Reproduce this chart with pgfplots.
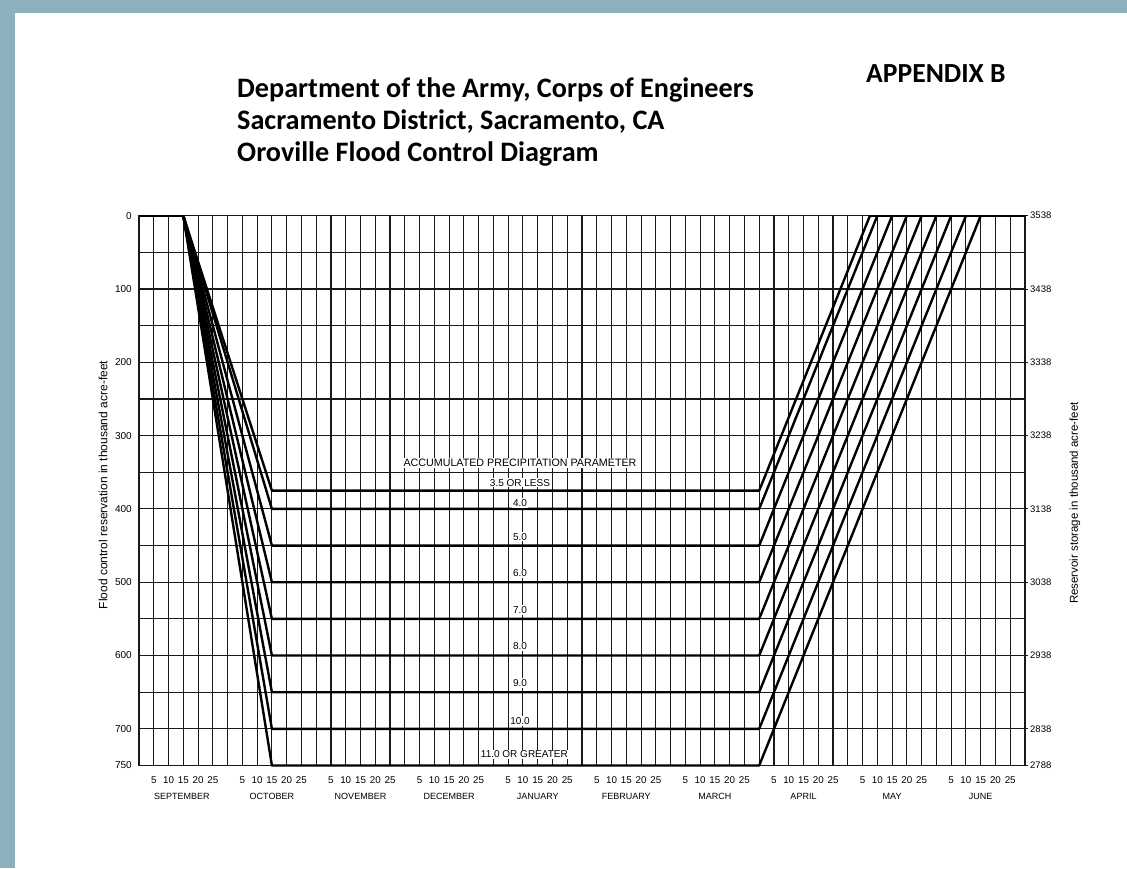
\documentclass[border=0pt]{standalone}
\usepackage{fontspec}
\setmainfont{Liberation Sans}
\newfontfamily\titlefont{Carlito}
\usepackage{pgfplots}
\pgfplotsset{compat=1.18}
\definecolor{band}{RGB}{141,176,189}
\begin{document}
\begin{tikzpicture}[x=1pt,y=1pt]
\useasboundingbox (0,0) rectangle (1127,868);
\fill[white] (0,0) rectangle (1127,868);
\fill[band] (0,0) rectangle (14.5,868);
\fill[band] (0,855) rectangle (1127,868);

\tikzset{ttl/.style={anchor=base west, inner sep=0pt, font=\titlefont\bfseries\fontsize{28.2}{32}\selectfont}}
\node[ttl] at (237,770) {Department of the Army, Corps of Engineers};
\node[ttl] at (237,738) {Sacramento District, Sacramento, CA};
\node[ttl] at (237,706) {Oroville Flood Control Diagram};
\node[ttl, font=\titlefont\bfseries\fontsize{27.6}{32}\selectfont] at (866,785) {APPENDIX B};

\node[rotate=90, font=\fontsize{12}{14}\selectfont] at (103,383) {Flood control reservation in thousand acre-feet};
\node[rotate=90, font=\fontsize{11.5}{14}\selectfont] at (1075,365) {Reservoir storage in thousand acre-feet};

\begin{axis}[
  at={(139pt,102.5pt)}, anchor=south west,
  scale only axis, width=886pt, height=549.8pt,
  xmin=0, xmax=60, ymin=0, ymax=750, y dir=reverse,
  clip=false,
  /pgf/number format/assume math mode=true,
  xtick={0,1,...,60},
  xticklabels={,5,10,15,20,25,,5,10,15,20,25,,5,10,15,20,25,,5,10,15,20,25,,5,10,15,20,25,,5,10,15,20,25,,5,10,15,20,25,,5,10,15,20,25,,5,10,15,20,25,,5,10,15,20,25,},
  ytick={0,50,...,750},
  yticklabels={0,,100,,200,,300,,400,,500,,600,,700,750},
  major tick length=0pt,
  xtick pos=bottom, ytick pos=left,
  xticklabel style={font=\fontsize{9.8}{11}\selectfont, anchor=base, yshift=-18pt},
  yticklabel style={font=\fontsize{10}{11}\selectfont, anchor=east, inner sep=0pt, xshift=-7pt},
  grid=major,
  major grid style={black!90, line width=1.1pt},
  axis line style={black!90, line width=1.1pt},
]
\addplot[black, line width=2.4pt, line join=round] coordinates {(0,0) (3,0)};
\addplot[black, line width=2.4pt, line join=round] coordinates {(49.5,0) (60,0)};
\addplot[black, line width=2.4pt, line join=round] coordinates {(3,0) (9,375) (42,375) (49.5,0)};
\addplot[black, line width=2.4pt, line join=round] coordinates {(3,0) (9,400) (42,400) (50,0)};
\addplot[black, line width=2.4pt, line join=round] coordinates {(3,0) (9,450) (42,450) (51,0)};
\addplot[black, line width=2.4pt, line join=round] coordinates {(3,0) (9,500) (42,500) (52,0)};
\addplot[black, line width=2.4pt, line join=round] coordinates {(3,0) (9,550) (42,550) (53,0)};
\addplot[black, line width=2.4pt, line join=round] coordinates {(3,0) (9,600) (42,600) (54,0)};
\addplot[black, line width=2.4pt, line join=round] coordinates {(3,0) (9,650) (42,650) (55,0)};
\addplot[black, line width=2.4pt, line join=round] coordinates {(3,0) (9,700) (42,700) (56,0)};
\addplot[black, line width=2.4pt, line join=round] coordinates {(3,0) (9,750) (42,750) (57,0)};

\tikzset{lvl/.style={fill=white, inner sep=1.2pt, font=\fontsize{10}{12}\selectfont}}
\node[lvl, font=\fontsize{10.7}{12}\selectfont] at (axis cs:25.8,337.3) {ACCUMULATED PRECIPITATION PARAMETER};
\node[lvl] at (axis cs:25.8,375) [yshift=8pt] {3.5 OR LESS};
\node[lvl] at (axis cs:25.8,400) [yshift=6pt] {4.0};
\node[lvl] at (axis cs:25.8,450) [yshift=9pt] {5.0};
\node[lvl] at (axis cs:25.8,500) [yshift=9pt] {6.0};
\node[lvl] at (axis cs:25.8,550) [yshift=9pt] {7.0};
\node[lvl] at (axis cs:25.8,600) [yshift=9pt] {8.0};
\node[lvl] at (axis cs:25.8,650) [yshift=9pt] {9.0};
\node[lvl] at (axis cs:25.8,700) [yshift=8pt] {10.0};
\node[lvl] at (axis cs:26.1,750) [yshift=11pt] {11.0 OR GREATER};

\tikzset{mon/.style={anchor=base, font=\fontsize{9}{10}\selectfont}}
\node[mon] at (axis cs:2.9,750) [yshift=-34pt] {SEPTEMBER};
\node[mon] at (axis cs:9,750) [yshift=-34pt] {OCTOBER};
\node[mon] at (axis cs:15,750) [yshift=-34pt] {NOVEMBER};
\node[mon] at (axis cs:21,750) [yshift=-34pt] {DECEMBER};
\node[mon] at (axis cs:27,750) [yshift=-34pt] {JANUARY};
\node[mon] at (axis cs:33,750) [yshift=-34pt] {FEBRUARY};
\node[mon] at (axis cs:39,750) [yshift=-34pt] {MARCH};
\node[mon] at (axis cs:45,750) [yshift=-34pt] {APRIL};
\node[mon] at (axis cs:51,750) [yshift=-34pt] {MAY};
\node[mon] at (axis cs:57,750) [yshift=-34pt] {JUNE};
\end{axis}

\begin{axis}[
  at={(139pt,102.5pt)}, anchor=south west,
  scale only axis, width=886pt, height=549.8pt,
  xmin=0, xmax=60, ymin=0, ymax=750, y dir=reverse,
  hide x axis,
  axis y line*=right,
  /pgf/number format/assume math mode=true,
  ytick={0,100,200,300,400,500,600,700,750},
  yticklabels={3538,3438,3338,3238,3138,3038,2938,2838,2788},
  tick align=outside, major tick length=3pt,
  yticklabel style={font=\fontsize{9.5}{11}\selectfont, anchor=west, inner sep=0pt, xshift=2pt},
  axis line style={black!90, line width=1.1pt},
  tick style={black!90, line width=1pt},
]
\addplot[draw=none] coordinates {(0,0) (60,750)};
\end{axis}
\end{tikzpicture}
\end{document}
